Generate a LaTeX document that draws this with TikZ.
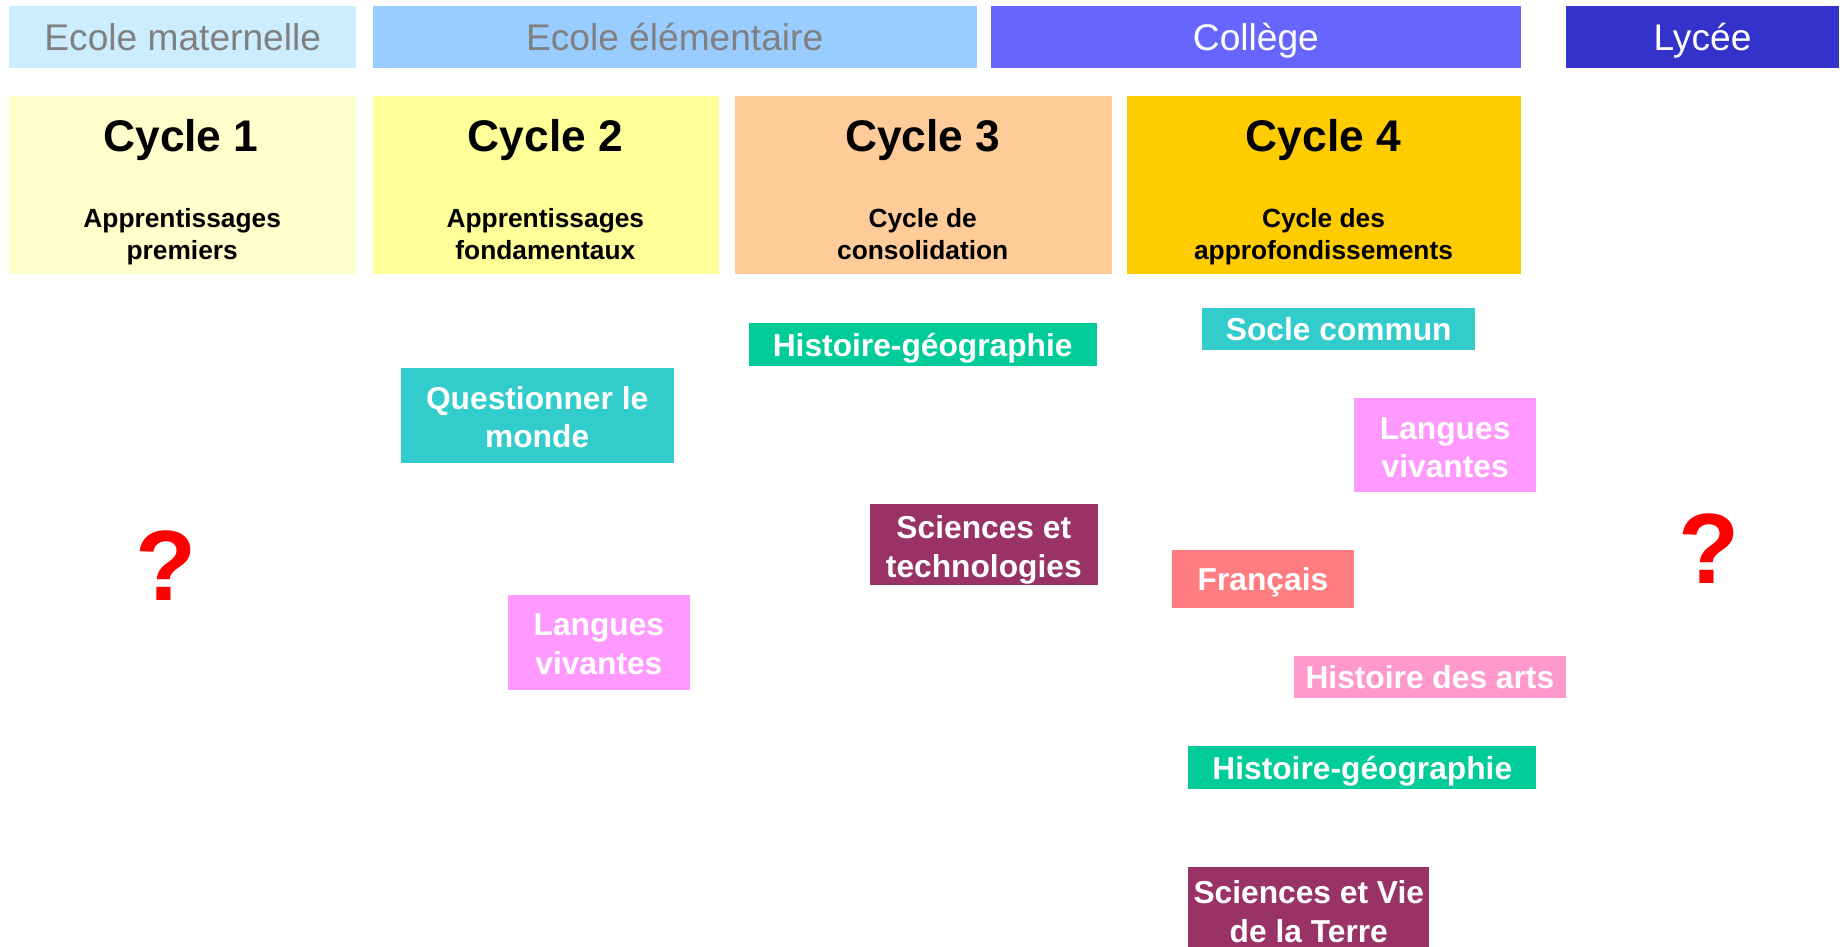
\documentclass[tikz,border=0pt]{standalone}
\usepackage{fontspec}
\setmainfont{Liberation Sans}
\definecolor{matC}{HTML}{CCECFF}
\definecolor{eleC}{HTML}{99CCFF}
\definecolor{colC}{HTML}{6666FF}
\definecolor{lycC}{HTML}{3333CC}
\definecolor{cyaC}{HTML}{FFFFCC}
\definecolor{cybC}{HTML}{FFFF99}
\definecolor{cycC}{HTML}{FFCC99}
\definecolor{cydC}{HTML}{FFCC00}
\definecolor{hgC}{HTML}{00CC99}
\definecolor{tealC}{HTML}{33CCCC}
\definecolor{plumC}{HTML}{993366}
\definecolor{lvC}{HTML}{FF99FF}
\definecolor{frC}{HTML}{FF7C80}
\definecolor{haC}{HTML}{FF99CC}
\definecolor{grayT}{HTML}{808080}
\definecolor{qC}{HTML}{FF0000}
\begin{document}
\begin{tikzpicture}[x=1pt,y=-1pt,
  every node/.style={inner sep=0pt, outer sep=0pt},
  level/.style={rectangle, minimum height=53pt, text height=23pt, text depth=0pt, font=\fontsize{31.6}{36}\selectfont},
  cycbox/.style={rectangle, minimum height=151pt},
  cyctitle/.style={text height=27pt, text depth=0pt, font=\bfseries\fontsize{37.7}{42}\selectfont},
  cycsub/.style={text height=44pt, text depth=0pt, font=\bfseries\fontsize{22.4}{27}\selectfont, align=center},
  subj/.style={rectangle, text=white, align=center, font=\bfseries\fontsize{27}{33}\selectfont},
  one/.style={subj, text height=20pt, text depth=0pt},
  two/.style={subj, text height=55pt, text depth=0pt},
  qmark/.style={text=qC, font=\bfseries\fontsize{85}{90}\selectfont}]
\useasboundingbox (0,0) rectangle (1568,805);
% school levels
\node[level, fill=matC, text=grayT, minimum width=295pt] (mat) at (155.5,31.5) {Ecole maternelle};
\node[level, fill=eleC, text=grayT, minimum width=514pt] (ele) at (574,31.5) {Ecole élémentaire};
\node[level, fill=colC, text=white, minimum width=451pt] (col) at (1068.5,31.5) {Collège};
\node[level, fill=lycC, text=white, minimum width=233pt] (lyc) at (1448.5,31.5) {Lycée};
% cycles
\node[cycbox, fill=cyaC, minimum width=295pt] (c1) at (155.5,157.5) {};
\node[cycbox, fill=cybC, minimum width=295pt] (c2) at (464.5,157.5) {};
\node[cycbox, fill=cycC, minimum width=321pt] (c3) at (785.5,157.5) {};
\node[cycbox, fill=cydC, minimum width=335pt] (c4) at (1126.5,157.5) {};
\node[cyctitle] (t1) at (154,115) {Cycle 1};
\node[cyctitle] (t2) at (464,115) {Cycle 2};
\node[cyctitle] (t3) at (785,115) {Cycle 3};
\node[cyctitle] (t4) at (1126,115) {Cycle 4};
\node[cycsub] (s1) at (155,198.5) {Apprentissages\\premiers};
\node[cycsub] (s2) at (464,198.5) {Apprentissages\\fondamentaux};
\node[cycsub] (s3) at (785,198.5) {Cycle de\\consolidation};
\node[cycsub] (s4) at (1126,198.5) {Cycle des\\approfondissements};
% subjects
\node[one, fill=hgC, minimum width=296pt, minimum height=36pt] (hg3) at (785,293) {Histoire-géographie};
\node[two, fill=tealC, minimum width=232pt, minimum height=81pt] (qm) at (457,353.5) {Questionner le\\monde};
\node[two, fill=plumC, minimum width=194pt, minimum height=69pt] (st) at (837,463.5) {Sciences et\\technologies};
\node[two, fill=lvC, minimum width=155pt, minimum height=81pt] (lv2) at (509.5,546.5) {Langues\\vivantes};
\node[one, fill=tealC, minimum width=232pt, minimum height=36pt] (sc) at (1139,280) {Socle commun};
\node[two, fill=lvC, minimum width=155pt, minimum height=80pt] (lv4) at (1229.5,379) {Langues\\vivantes};
\node[one, fill=frC, minimum width=155pt, minimum height=49pt] (fr) at (1074.5,492.5) {Français};
\node[one, fill=haC, minimum width=231pt, minimum height=36pt] (ha) at (1216.5,576) {Histoire des arts};
\node[one, fill=hgC, minimum width=296pt, minimum height=36pt] (hg4) at (1159,653) {Histoire-géographie};
\node[two, fill=plumC, minimum width=205pt, minimum height=72pt] (svt) at (1113.5,774) {Sciences et Vie\\de la Terre};
% question marks
\node[qmark] (q1) at (141,481) {?};
\node[qmark] (q2) at (1454,467) {?};
\end{tikzpicture}
\end{document}
